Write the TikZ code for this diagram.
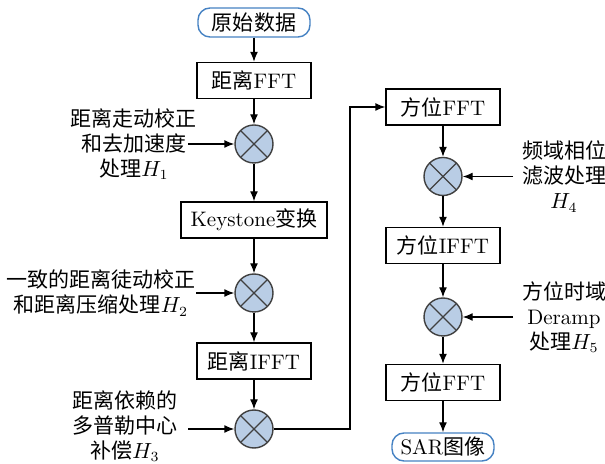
\documentclass[tikz,border=0pt]{standalone}
\usepackage{fontspec}
\newfontfamily\cjk{Noto Sans CJK SC}
\newcommand{\zh}[1]{{\cjk #1}}
\usetikzlibrary{arrows.meta,positioning}
\definecolor{mixblue}{RGB}{185,205,229}
\definecolor{termblue}{RGB}{70,130,195}
\tikzset{
    box/.style =    {rectangle,
                    fill=white,
                    draw=black,
                    text=black,
                    minimum width=57pt,
                    minimum height=18pt,
                    inner sep=0pt},
    term/.style =   {rectangle,
                    rounded corners=6pt,
                    fill=white,
                    draw=termblue,
                    text=black,
                    minimum height=14.5pt,
                    inner sep=0pt},
    mixer/.style =  {circle,
                    fill=mixblue,
                    draw=black!75,
                    minimum size=19pt,
                    inner sep=0pt,
                    path picture={
                        \draw (path picture bounding box.center) +(45:9.5pt) -- +(225:9.5pt)
                              (path picture bounding box.center) +(135:9.5pt) -- +(-45:9.5pt);}},
    note/.style =   {align=center,
                    text=black,
                    inner sep=0pt},
    >={Latex[length=5pt,width=4pt]}}

\begin{document}
\begin{tikzpicture}[line width=0.7pt, font=\fontsize{10.5}{12.5}\selectfont]
    \useasboundingbox (-127pt,11.25pt) rectangle (175.5pt,-220.75pt);
    % range processing
    \node[term, minimum width=56pt]     (raw)   at (0,0)                                {\zh{原始数据}};
    \node[box]                          (rfft)  [below of=raw, node distance=29pt]      {\zh{距离}FFT};
    \node[mixer]                        (m1)    [below of=rfft, node distance=31.75pt]  {};
    \node[box, minimum width=73pt]      (key)   [below of=m1, node distance=38pt]       {Keystone\zh{变换}};
    \node[mixer]                        (m2)    [below of=key, node distance=36.5pt]    {};
    \node[box]                          (rifft) [below of=m2, node distance=34pt]       {\zh{距离}IFFT};
    \node[mixer]                        (m3)    [below of=rifft, node distance=34pt]    {};
    % azimuth processing
    \node[box]                          (afft)  at (94.5pt,-42.25pt)                    {\zh{方位}FFT};
    \node[mixer]                        (m4)    [below of=afft, node distance=34.75pt]  {};
    \node[box]                          (aifft) [below of=m4, node distance=34.5pt]     {\zh{方位}IFFT};
    \node[mixer]                        (m5)    [below of=aifft, node distance=35.75pt] {};
    \node[box]                          (afft2) [below of=m5, node distance=32.75pt]    {\zh{方位}FFT};
    \node[term, minimum width=51pt, minimum height=14pt] (sar) [below of=afft2, node distance=32.25pt] {SAR\zh{图像}};
    % filters
    \node[note]     (h1)    [left of=m1, node distance=60pt]    {\zh{距离走动校正}\\\zh{和去加速度}\\\zh{处理}$H_1$};
    \node[note]     (h2)    [left of=m2, node distance=76.5pt]  {\zh{一致的距离徒动校正}\\\zh{和距离压缩处理}$H_2$};
    \node[note, yshift=1.5pt] (h3) [left of=m3, node distance=64.5pt] {\zh{距离依赖的}\\\zh{多普勒中心}\\\zh{补偿}$H_3$};
    \node[note]     (h4)    [right of=m4, node distance=60.5pt] {\zh{频域相位}\\\zh{滤波处理}\\$H_4$};
    \node[note]     (h5)    [right of=m5, node distance=60.5pt] {\zh{方位时域}\\Deramp\\\zh{处理}$H_5$};
    \coordinate     (h1in)  at ([xshift=-33pt]m1.center);
    \coordinate     (h3in)  at ([xshift=-33pt]m3.center);
    \coordinate     (h4in)  at ([xshift=35pt]m4.center);
    \coordinate     (h5in)  at ([xshift=35pt]m5.center);
    \coordinate     (bend)  at ([xshift=48pt]m3.center);
    % connectors
    \path [->]  (raw)   edge (rfft)
                (rfft)  edge (m1)
                (m1)    edge (key)
                (key)   edge (m2)
                (m2)    edge (rifft)
                (rifft) edge (m3)
                (afft)  edge (m4)
                (m4)    edge (aifft)
                (aifft) edge (m5)
                (m5)    edge (afft2)
                (afft2) edge (sar)
                (h1in)  edge (m1)
                (h2)    edge (m2)
                (h3in)  edge (m3)
                (h4in)  edge (m4)
                (h5in)  edge (m5);
    \draw [->]  (m3) -- (bend) |- (afft);
\end{tikzpicture}
\end{document}
